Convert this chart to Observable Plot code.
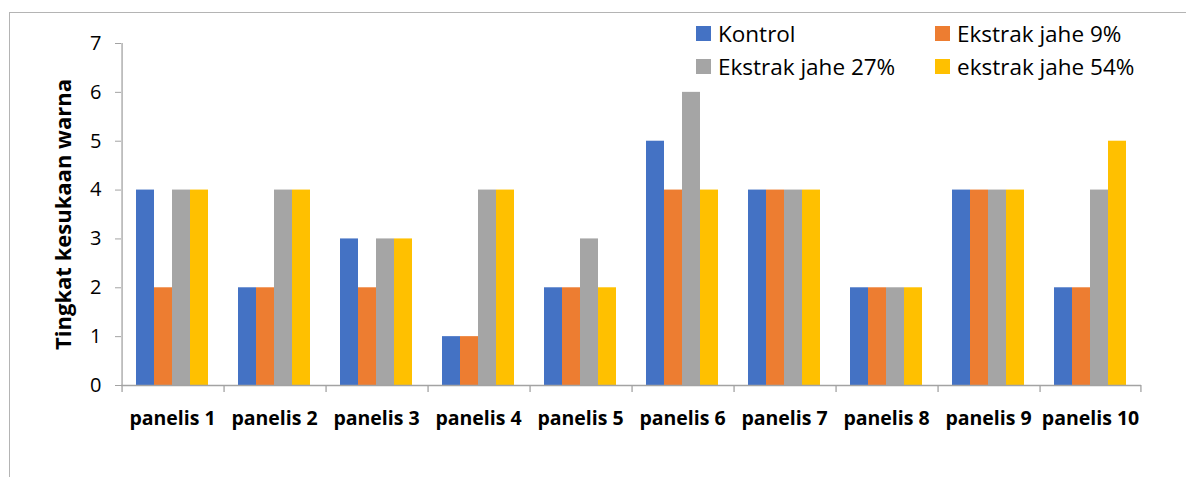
<!DOCTYPE html>
<html>
<head>
<meta charset="utf-8">
<script src="https://cdn.jsdelivr.net/npm/d3@7"></script>
<script src="https://cdn.jsdelivr.net/npm/@observablehq/plot@0.6"></script>
<style>
  html, body { margin: 0; padding: 0; background: #fff; }
  #wrap { position: relative; width: 1186px; height: 477px; overflow: hidden; font-family: "Open Sans", sans-serif; }
  #border { position: absolute; left: 9px; top: 12px; right: -5px; bottom: -5px;
            border-top: 1.5px solid #b4b4b4; border-left: 1.5px solid #b4b4b4; }
  #legend { position: absolute; left: 696px; top: 19px; display: grid;
            grid-template-columns: 239px auto; row-gap: 5px; font-size: 22.5px; color: #000; }
  #legend .item { display: flex; align-items: center; height: 28px; }
  #legend .sw { width: 15px; height: 15px; margin-right: 7px; }
  #chart { position: absolute; left: 0; top: 0; }
  .pref [aria-label="y-axis tick label"] { font-size: 20px; }
  .pref [aria-label="y-axis label"] { font-size: 22px; font-weight: bold; }
  .pref [aria-label="fx-axis tick label"] { font-size: 19.5px; font-weight: bold; }
</style>
</head>
<body>
<div id="wrap">
  <div id="border"></div>
  <div id="chart"></div>
  <div id="legend"></div>
</div>
<script>
// Panelists on the x axis and the four treatments per panelist
const panels = ["panelis 1", "panelis 2", "panelis 3", "panelis 4", "panelis 5",
                "panelis 6", "panelis 7", "panelis 8", "panelis 9", "panelis 10"];
const series = ["Kontrol", "Ekstrak jahe 9%", "Ekstrak jahe 27%", "ekstrak jahe 54%"];
const colors = ["#4472C4", "#ED7D31", "#A5A5A5", "#FFC000"];

// Colour preference score per panelist, one array per treatment
const kontrol = [4, 2, 3, 1, 2, 5, 4, 2, 4, 2];
const jahe9   = [2, 2, 2, 1, 2, 4, 4, 2, 4, 2];
const jahe27  = [4, 4, 3, 4, 3, 6, 4, 2, 4, 4];
const jahe54  = [4, 4, 3, 4, 2, 4, 4, 2, 4, 5];

const yTicks = [0, 1, 2, 3, 4, 5, 6, 7];
const yLabel = "Tingkat kesukaan warna";

const valuesBySeries = [kontrol, jahe9, jahe27, jahe54];
const rows = [];
panels.forEach((p, i) => {
  series.forEach((s, j) => rows.push({panel: p, series: s, value: valuesBySeries[j][i]}));
});

const W = 1186, H = 477;
const mL = 120, mR = 44, mT = 43, mB = 92;
const padOuter = 0.77;
const facetW = (W - mL - mR) / panels.length;
const step = facetW / (series.length + 2 * padOuter);
const edgeDx = (padOuter + 0.5) * step;   // from first/last bar centre to panel edge
const axisGray = "#a3a3a3";

// Category boundary ticks; the first one also carries the y axis line
const leftEdges = panels.map((p, i) => ({panel: p, top: i === 0 ? yTicks[yTicks.length - 1] : 0}));
const rightEdge = [{panel: panels[panels.length - 1], top: 0}];

const chart = Plot.plot({
  className: "pref",
  width: W, height: H,
  marginLeft: mL, marginRight: mR, marginTop: mT, marginBottom: mB,
  style: {fontFamily: "'Open Sans', sans-serif", background: "transparent", color: "#000"},
  fx: {domain: panels, padding: 0},
  x: {domain: series, paddingInner: 0, paddingOuter: padOuter, axis: null},
  y: {domain: [0, 7]},
  color: {domain: series, range: colors},
  marks: [
    Plot.barY(rows, {fx: "panel", x: "series", y: "value", fill: "series"}),
    Plot.ruleY([0], {stroke: axisGray, strokeWidth: 1.3}),
    Plot.ruleX(leftEdges, {fx: "panel", x: () => series[0], y1: "top", y2: -0.145, dx: -edgeDx, stroke: axisGray, strokeWidth: 1.3}),
    Plot.ruleX(rightEdge, {fx: "panel", x: () => series[series.length - 1], y1: "top", y2: -0.145, dx: edgeDx, stroke: axisGray, strokeWidth: 1.3}),
    Plot.axisY({ticks: yTicks, tickFormat: d => String(d), tickSize: 6, tickPadding: 14, label: null, stroke: axisGray, fill: "#000"}),
    Plot.axisY({ticks: [], tickSize: 0, label: yLabel, labelAnchor: "center", labelArrow: "none", labelOffset: 66, fill: "#000"}),
    Plot.axisFx({anchor: "bottom", tickSize: 0, tickPadding: 26, label: null, fill: "#000"})
  ]
});
document.getElementById("chart").appendChild(chart);

// Two-column legend
const legend = document.getElementById("legend");
series.forEach((s, i) => {
  const item = document.createElement("div");
  item.className = "item";
  const sw = document.createElement("span");
  sw.className = "sw";
  sw.style.background = colors[i];
  item.appendChild(sw);
  item.appendChild(document.createTextNode(s));
  legend.appendChild(item);
});
</script>
</body>
</html>
